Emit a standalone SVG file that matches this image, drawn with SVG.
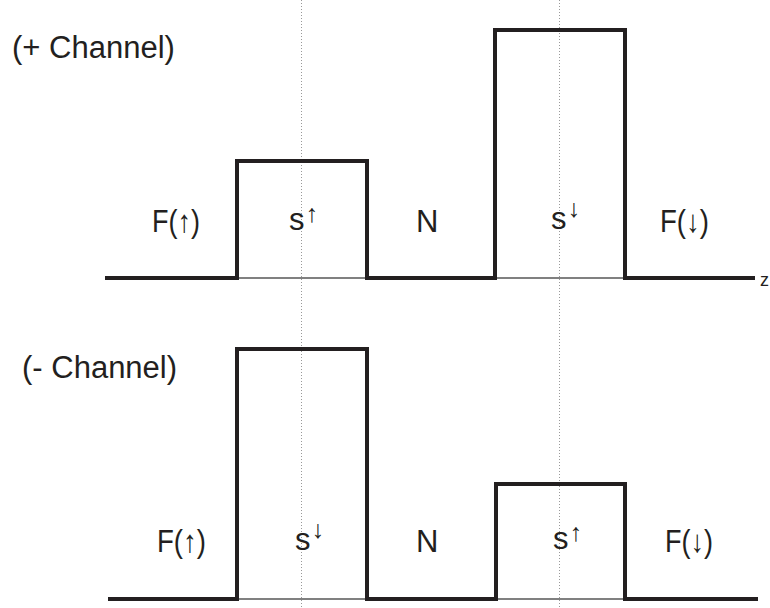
<svg xmlns="http://www.w3.org/2000/svg" width="770" height="608" viewBox="0 0 770 608">
<style>
.t{font-family:"Liberation Sans",Arial,sans-serif;fill:#231f20}
.lbl{font-size:31px}
.ttl{font-size:31px}
.sup{font-size:25px;font-weight:bold}
.thick{fill:none;stroke:#231f20;stroke-width:4;stroke-linejoin:miter}
.base{stroke:#808080;stroke-width:2}
.dot{stroke:#999;stroke-width:1;stroke-dasharray:1 2}
</style>
<rect width="770" height="608" fill="#fff"/>
<g id="guides">
<line class="dot" x1="301.5" y1="0" x2="301.5" y2="608"/>
<line class="dot" x1="559.5" y1="0" x2="559.5" y2="608"/>
</g>
<g id="connectors">
<line class="base" x1="237" y1="278" x2="367" y2="278"/>
<line class="base" x1="495" y1="278" x2="625" y2="278"/>
<line class="base" x1="237" y1="599" x2="367" y2="599"/>
<line class="base" x1="495" y1="599" x2="625" y2="599"/>
<polyline class="thick" points="105,278 237,278 237,161 367,161 367,278 495,278 495,30 625,30 625,278 755,278"/>
<polyline class="thick" points="108,599 237,599 237,349 367,349 367,599 496,599 496,484 625,484 625,599 758,599"/>
</g>
<g id="title-plus"><text class="t ttl" x="12" y="58">(+ Channel)</text></g>
<g id="title-minus"><text class="t ttl" x="22" y="378">(- Channel)</text></g>
<g id="top-F-up"><text class="t lbl" x="152" y="232" textLength="48" lengthAdjust="spacingAndGlyphs">F(↑)</text></g>
<g id="top-s-up"><text class="t lbl" x="289" y="230">s<tspan class="sup" dx="1" dy="-8">↑</tspan></text></g>
<g id="top-N"><text class="t lbl" x="416" y="232">N</text></g>
<g id="top-s-down"><text class="t lbl" x="551" y="229">s<tspan class="sup" dx="1" dy="-12">↓</tspan></text></g>
<g id="top-F-down"><text class="t lbl" x="660" y="232" textLength="49" lengthAdjust="spacingAndGlyphs">F(↓)</text></g>
<g id="z-axis"><text class="t" x="760" y="286" font-size="18">z</text></g>
<g id="bot-F-up"><text class="t lbl" x="157" y="552" textLength="49" lengthAdjust="spacingAndGlyphs">F(↑)</text></g>
<g id="bot-s-down"><text class="t lbl" x="295" y="550">s<tspan class="sup" dx="1" dy="-12">↓</tspan></text></g>
<g id="bot-N"><text class="t lbl" x="416" y="552">N</text></g>
<g id="bot-s-up"><text class="t lbl" x="553" y="549">s<tspan class="sup" dx="1" dy="-8">↑</tspan></text></g>
<g id="bot-F-down"><text class="t lbl" x="665" y="552" textLength="48" lengthAdjust="spacingAndGlyphs">F(↓)</text></g>
</svg>
